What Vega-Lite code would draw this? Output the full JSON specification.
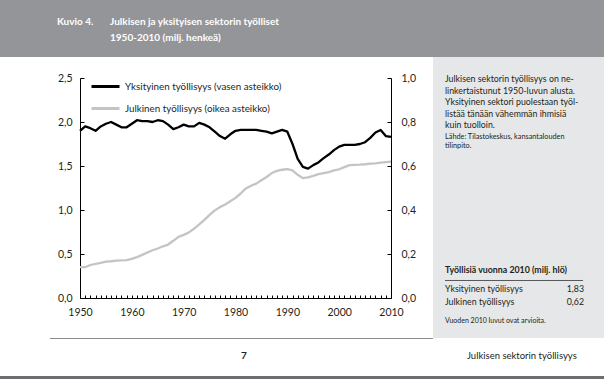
{
  "$schema": "https://vega.github.io/schema/vega-lite/v6.json",
  "width": 311,
  "height": 220,
  "autosize": {"type": "none"},
  "padding": {"left": 80, "top": 78, "right": 213, "bottom": 81},
  "background": "white",
  "config": {"view": {"stroke": null}, "font": "Lato", "text": {"font": "Lato"}},
  "data": {"values": [
    {"year": 1950, "yksityinen": 1.90, "julkinen": 0.140},
    {"year": 1951, "yksityinen": 1.95, "julkinen": 0.140},
    {"year": 1952, "yksityinen": 1.93, "julkinen": 0.150},
    {"year": 1953, "yksityinen": 1.90, "julkinen": 0.155},
    {"year": 1954, "yksityinen": 1.95, "julkinen": 0.160},
    {"year": 1955, "yksityinen": 1.98, "julkinen": 0.165},
    {"year": 1956, "yksityinen": 2.00, "julkinen": 0.167},
    {"year": 1957, "yksityinen": 1.97, "julkinen": 0.170},
    {"year": 1958, "yksityinen": 1.94, "julkinen": 0.171},
    {"year": 1959, "yksityinen": 1.94, "julkinen": 0.172},
    {"year": 1960, "yksityinen": 1.98, "julkinen": 0.178},
    {"year": 1961, "yksityinen": 2.02, "julkinen": 0.186},
    {"year": 1962, "yksityinen": 2.01, "julkinen": 0.196},
    {"year": 1963, "yksityinen": 2.01, "julkinen": 0.207},
    {"year": 1964, "yksityinen": 2.00, "julkinen": 0.217},
    {"year": 1965, "yksityinen": 2.02, "julkinen": 0.225},
    {"year": 1966, "yksityinen": 2.01, "julkinen": 0.235},
    {"year": 1967, "yksityinen": 1.97, "julkinen": 0.243},
    {"year": 1968, "yksityinen": 1.92, "julkinen": 0.260},
    {"year": 1969, "yksityinen": 1.94, "julkinen": 0.278},
    {"year": 1970, "yksityinen": 1.97, "julkinen": 0.287},
    {"year": 1971, "yksityinen": 1.95, "julkinen": 0.298},
    {"year": 1972, "yksityinen": 1.95, "julkinen": 0.315},
    {"year": 1973, "yksityinen": 1.99, "julkinen": 0.335},
    {"year": 1974, "yksityinen": 1.97, "julkinen": 0.355},
    {"year": 1975, "yksityinen": 1.94, "julkinen": 0.378},
    {"year": 1976, "yksityinen": 1.89, "julkinen": 0.398},
    {"year": 1977, "yksityinen": 1.84, "julkinen": 0.413},
    {"year": 1978, "yksityinen": 1.81, "julkinen": 0.425},
    {"year": 1979, "yksityinen": 1.86, "julkinen": 0.440},
    {"year": 1980, "yksityinen": 1.90, "julkinen": 0.455},
    {"year": 1981, "yksityinen": 1.91, "julkinen": 0.475},
    {"year": 1982, "yksityinen": 1.91, "julkinen": 0.498},
    {"year": 1983, "yksityinen": 1.91, "julkinen": 0.510},
    {"year": 1984, "yksityinen": 1.91, "julkinen": 0.520},
    {"year": 1985, "yksityinen": 1.90, "julkinen": 0.535},
    {"year": 1986, "yksityinen": 1.89, "julkinen": 0.550},
    {"year": 1987, "yksityinen": 1.87, "julkinen": 0.568},
    {"year": 1988, "yksityinen": 1.89, "julkinen": 0.578},
    {"year": 1989, "yksityinen": 1.91, "julkinen": 0.583},
    {"year": 1990, "yksityinen": 1.89, "julkinen": 0.586},
    {"year": 1991, "yksityinen": 1.75, "julkinen": 0.580},
    {"year": 1992, "yksityinen": 1.58, "julkinen": 0.560},
    {"year": 1993, "yksityinen": 1.49, "julkinen": 0.545},
    {"year": 1994, "yksityinen": 1.47, "julkinen": 0.548},
    {"year": 1995, "yksityinen": 1.51, "julkinen": 0.555},
    {"year": 1996, "yksityinen": 1.54, "julkinen": 0.563},
    {"year": 1997, "yksityinen": 1.59, "julkinen": 0.568},
    {"year": 1998, "yksityinen": 1.63, "julkinen": 0.572},
    {"year": 1999, "yksityinen": 1.68, "julkinen": 0.580},
    {"year": 2000, "yksityinen": 1.72, "julkinen": 0.585},
    {"year": 2001, "yksityinen": 1.74, "julkinen": 0.595},
    {"year": 2002, "yksityinen": 1.74, "julkinen": 0.604},
    {"year": 2003, "yksityinen": 1.74, "julkinen": 0.605},
    {"year": 2004, "yksityinen": 1.75, "julkinen": 0.606},
    {"year": 2005, "yksityinen": 1.77, "julkinen": 0.608},
    {"year": 2006, "yksityinen": 1.82, "julkinen": 0.611},
    {"year": 2007, "yksityinen": 1.88, "julkinen": 0.612},
    {"year": 2008, "yksityinen": 1.91, "julkinen": 0.615},
    {"year": 2009, "yksityinen": 1.84, "julkinen": 0.618},
    {"year": 2010, "yksityinen": 1.83, "julkinen": 0.620}
  ]},
  "layer": [
    {
      "layer": [
        {
          "data": {"values": [{}]},
          "mark": {"type": "rect", "color": "#939598"},
          "encoding": {
            "x": {"datum": 1930, "type": "quantitative", "axis": null, "scale": {"domain": [1950, 2010], "nice": false, "zero": false}},
            "x2": {"datum": 2060},
            "y": {"datum": 3.6, "type": "quantitative", "axis": null, "scale": {"domain": [0, 2.5], "nice": false, "zero": false}},
            "y2": {"datum": 2.7386}
          }
        },
        {
          "data": {"values": [{}]},
          "mark": {"type": "rect", "color": "#e6e7e8"},
          "encoding": {
            "x": {"datum": 2018.1, "type": "quantitative", "axis": null, "scale": {"domain": [1950, 2010], "nice": false, "zero": false}},
            "x2": {"datum": 2060},
            "y": {"datum": 2.7386, "type": "quantitative", "axis": null, "scale": {"domain": [0, 2.5], "nice": false, "zero": false}},
            "y2": {"datum": -0.4545}
          }
        },
        {
          "data": {"values": [{}]},
          "mark": {"type": "rect", "color": "#6d6e71"},
          "encoding": {
            "x": {"datum": 1930, "type": "quantitative", "axis": null, "scale": {"domain": [1950, 2010], "nice": false, "zero": false}},
            "x2": {"datum": 2060},
            "y": {"datum": -0.886, "type": "quantitative", "axis": null, "scale": {"domain": [0, 2.5], "nice": false, "zero": false}},
            "y2": {"datum": -1.2}
          }
        },
        {
          "data": {"values": [{}]},
          "mark": {"type": "rule", "color": "#8c8c8c", "strokeWidth": 1.2},
          "encoding": {
            "x": {"datum": 1944.21, "type": "quantitative", "axis": null, "scale": {"domain": [1950, 2010], "nice": false, "zero": false}},
            "x2": {"datum": 2018.1},
            "y": {"datum": -0.4602, "type": "quantitative", "axis": null, "scale": {"domain": [0, 2.5], "nice": false, "zero": false}}
          }
        },
        {
          "data": {"values": [{}]},
          "mark": {"type": "rule", "color": "#58595b", "strokeWidth": 1},
          "encoding": {
            "x": {"datum": 2020.42, "type": "quantitative", "axis": null, "scale": {"domain": [1950, 2010], "nice": false, "zero": false}},
            "x2": {"datum": 2047.04},
            "y": {"datum": 0.1989, "type": "quantitative", "axis": null, "scale": {"domain": [0, 2.5], "nice": false, "zero": false}}
          }
        },
        {
          "data": {"values": [{}]},
          "mark": {"type": "text", "text": "Kuvio 4.", "align": "left", "baseline": "middle", "fontSize": 10, "fontWeight": "bold", "color": "#ffffff"},
          "encoding": {
            "x": {"datum": 1945.56, "type": "quantitative", "axis": null, "scale": {"domain": [1950, 2010], "nice": false, "zero": false}},
            "y": {"datum": 3.1364, "type": "quantitative", "axis": null, "scale": {"domain": [0, 2.5], "nice": false, "zero": false}}
          }
        },
        {
          "data": {"values": [{}]},
          "mark": {"type": "text", "text": ["Julkisen ja yksityisen sektorin työlliset", "1950-2010 (milj. henkeä)"], "align": "left", "baseline": "middle", "fontSize": 10, "lineHeight": 16, "fontWeight": "bold", "color": "#ffffff"},
          "encoding": {
            "x": {"datum": 1955.79, "type": "quantitative", "axis": null, "scale": {"domain": [1950, 2010], "nice": false, "zero": false}},
            "y": {"datum": 3.1364, "type": "quantitative", "axis": null, "scale": {"domain": [0, 2.5], "nice": false, "zero": false}}
          }
        },
        {
          "data": {"values": [{}]},
          "mark": {"type": "text", "text": ["Julkisen sektorin työllisyys on ne-", "linkertaistunut 1950-luvun alusta.", "Yksityinen sektori puolestaan työl-", "listää tänään vähemmän ihmisiä", "kuin tuolloin."], "align": "left", "baseline": "middle", "fontSize": 8.8, "lineHeight": 11.5, "color": "#231f20"},
          "encoding": {
            "x": {"datum": 2020.42, "type": "quantitative", "axis": null, "scale": {"domain": [1950, 2010], "nice": false, "zero": false}},
            "y": {"datum": 2.483, "type": "quantitative", "axis": null, "scale": {"domain": [0, 2.5], "nice": false, "zero": false}}
          }
        },
        {
          "data": {"values": [{}]},
          "mark": {"type": "text", "text": ["Lähde: Tilastokeskus, kansantalouden", "tilinpito."], "align": "left", "baseline": "middle", "fontSize": 7.3, "lineHeight": 9.2, "color": "#231f20"},
          "encoding": {
            "x": {"datum": 2020.42, "type": "quantitative", "axis": null, "scale": {"domain": [1950, 2010], "nice": false, "zero": false}},
            "y": {"datum": 1.8295, "type": "quantitative", "axis": null, "scale": {"domain": [0, 2.5], "nice": false, "zero": false}}
          }
        },
        {
          "data": {"values": [{}]},
          "mark": {"type": "text", "text": "Työllisiä vuonna 2010 (milj. hlö)", "align": "left", "baseline": "middle", "fontSize": 8.8, "fontWeight": "bold", "color": "#231f20"},
          "encoding": {
            "x": {"datum": 2020.42, "type": "quantitative", "axis": null, "scale": {"domain": [1950, 2010], "nice": false, "zero": false}},
            "y": {"datum": 0.3182, "type": "quantitative", "axis": null, "scale": {"domain": [0, 2.5], "nice": false, "zero": false}}
          }
        },
        {
          "data": {"values": [{}]},
          "mark": {"type": "text", "text": ["Yksityinen työllisyys", "Julkinen työllisyys"], "align": "left", "baseline": "middle", "fontSize": 8.8, "lineHeight": 13, "color": "#231f20"},
          "encoding": {
            "x": {"datum": 2020.42, "type": "quantitative", "axis": null, "scale": {"domain": [1950, 2010], "nice": false, "zero": false}},
            "y": {"datum": 0.1023, "type": "quantitative", "axis": null, "scale": {"domain": [0, 2.5], "nice": false, "zero": false}}
          }
        },
        {
          "data": {"values": [{}]},
          "mark": {"type": "text", "text": ["1,83", "0,62"], "align": "right", "baseline": "middle", "fontSize": 8.8, "lineHeight": 13, "color": "#231f20"},
          "encoding": {
            "x": {"datum": 2047.24, "type": "quantitative", "axis": null, "scale": {"domain": [1950, 2010], "nice": false, "zero": false}},
            "y": {"datum": 0.1023, "type": "quantitative", "axis": null, "scale": {"domain": [0, 2.5], "nice": false, "zero": false}}
          }
        },
        {
          "data": {"values": [{}]},
          "mark": {"type": "text", "text": "Vuoden 2010 luvut ovat arvioita.", "align": "left", "baseline": "middle", "fontSize": 7, "color": "#231f20"},
          "encoding": {
            "x": {"datum": 2020.42, "type": "quantitative", "axis": null, "scale": {"domain": [1950, 2010], "nice": false, "zero": false}},
            "y": {"datum": -0.2614, "type": "quantitative", "axis": null, "scale": {"domain": [0, 2.5], "nice": false, "zero": false}}
          }
        },
        {
          "data": {"values": [{}]},
          "mark": {"type": "text", "text": "7", "align": "center", "baseline": "middle", "fontSize": 10, "fontWeight": "bold", "color": "#231f20"},
          "encoding": {
            "x": {"datum": 1981.64, "type": "quantitative", "axis": null, "scale": {"domain": [1950, 2010], "nice": false, "zero": false}},
            "y": {"datum": -0.659, "type": "quantitative", "axis": null, "scale": {"domain": [0, 2.5], "nice": false, "zero": false}}
          }
        },
        {
          "data": {"values": [{}]},
          "mark": {"type": "text", "text": "Julkisen sektorin työllisyys", "align": "left", "baseline": "middle", "fontSize": 9.5, "color": "#231f20"},
          "encoding": {
            "x": {"datum": 2024.66, "type": "quantitative", "axis": null, "scale": {"domain": [1950, 2010], "nice": false, "zero": false}},
            "y": {"datum": -0.659, "type": "quantitative", "axis": null, "scale": {"domain": [0, 2.5], "nice": false, "zero": false}}
          }
        }
      ]
    },
    {
      "mark": {"type": "line", "strokeWidth": 2.3, "strokeJoin": "round"},
      "encoding": {
        "x": {"field": "year", "type": "quantitative", "scale": {"domain": [1950, 2010], "nice": false, "zero": false},
          "axis": {"orient": "bottom", "title": null, "grid": false, "values": [1950,1951,1952,1953,1954,1955,1956,1957,1958,1959,1960,1961,1962,1963,1964,1965,1966,1967,1968,1969,1970,1971,1972,1973,1974,1975,1976,1977,1978,1979,1980,1981,1982,1983,1984,1985,1986,1987,1988,1989,1990,1991,1992,1993,1994,1995,1996,1997,1998,1999,2000,2001,2002,2003,2004,2005,2006,2007,2008,2009,2010],
            "format": "d", "labelExpr": "datum.value % 10 == 0 ? datum.label : ''", "labelOverlap": false, "labelFlush": false, "labelBound": false,
            "tickSize": -3, "labelPadding": 12, "domainColor": "#000000", "tickColor": "#000000", "labelFont": "Lato", "labelFontSize": 10.5, "labelColor": "#231f20"}},
        "y": {"field": "yksityinen", "type": "quantitative", "scale": {"domain": [0, 2.5], "nice": false, "zero": false},
          "axis": {"orient": "left", "title": null, "grid": false, "values": [0, 0.5, 1, 1.5, 2, 2.5],
            "labelExpr": "replace(format(datum.value, '.1f'), '.', ',')", "labelFlush": false, "labelOverlap": false,
            "tickSize": -4, "labelPadding": 12, "domainColor": "#000000", "tickColor": "#000000", "labelFont": "Lato", "labelFontSize": 10.5, "labelColor": "#231f20"}},
        "color": {"datum": "Yksityinen työllisyys (vasen asteikko)", "type": "nominal",
          "scale": {"domain": ["Yksityinen työllisyys (vasen asteikko)", "Julkinen työllisyys (oikea asteikko)"], "range": ["#000000", "#c4c4c4"]},
          "legend": {"orient": "none", "legendX": 10, "legendY": -7, "title": null, "symbolType": "stroke", "symbolSize": 784, "symbolStrokeWidth": 3,
            "labelFont": "Lato", "labelFontSize": 9.8, "labelColor": "#231f20", "labelOffset": 4, "labelLimit": 400, "rowPadding": -6, "padding": 0}}
      }
    },
    {
      "mark": {"type": "line", "strokeWidth": 2.3, "strokeJoin": "round"},
      "encoding": {
        "x": {"field": "year", "type": "quantitative", "axis": null, "scale": {"domain": [1950, 2010], "nice": false, "zero": false}},
        "y": {"field": "julkinen", "type": "quantitative", "scale": {"domain": [0, 1], "nice": false, "zero": false},
          "axis": {"orient": "right", "title": null, "grid": false, "values": [0, 0.2, 0.4, 0.6, 0.8, 1],
            "labelExpr": "replace(format(datum.value, '.1f'), '.', ',')", "labelFlush": false, "labelOverlap": false,
            "tickSize": -4, "labelPadding": 14, "domainColor": "#000000", "tickColor": "#000000", "labelFont": "Lato", "labelFontSize": 10.5, "labelColor": "#231f20"}},
        "color": {"datum": "Julkinen työllisyys (oikea asteikko)", "type": "nominal",
          "scale": {"domain": ["Yksityinen työllisyys (vasen asteikko)", "Julkinen työllisyys (oikea asteikko)"], "range": ["#000000", "#c4c4c4"]},
          "legend": {"orient": "none", "legendX": 10, "legendY": -7, "title": null, "symbolType": "stroke", "symbolSize": 784, "symbolStrokeWidth": 3,
            "labelFont": "Lato", "labelFontSize": 9.8, "labelColor": "#231f20", "labelOffset": 4, "labelLimit": 400, "rowPadding": -6, "padding": 0}}
      }
    }
  ],
  "resolve": {"scale": {"x": "independent", "y": "independent"}}
}
